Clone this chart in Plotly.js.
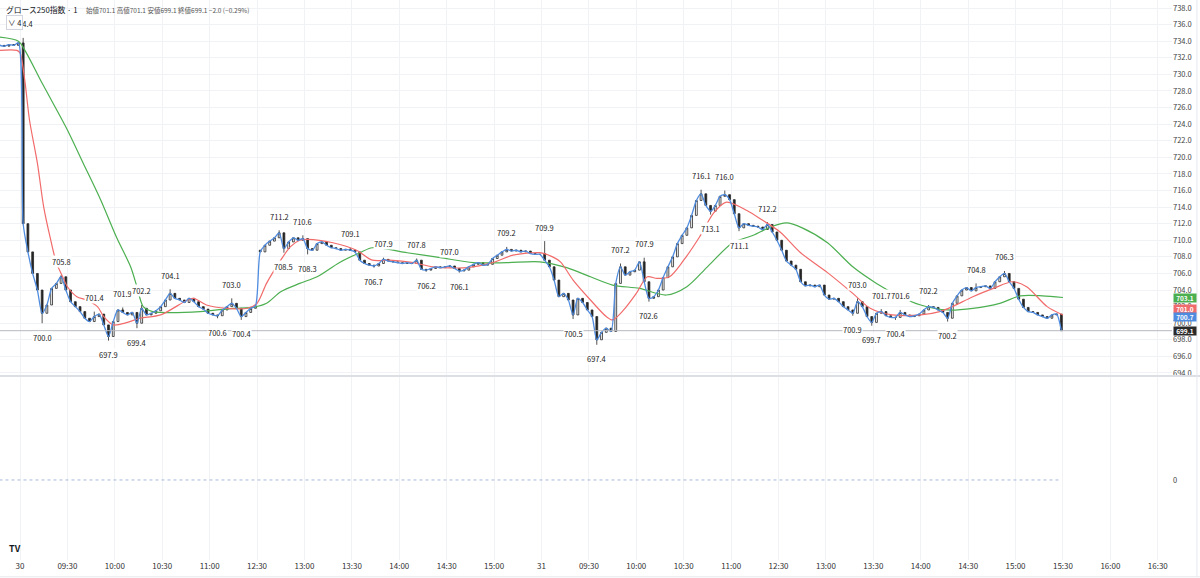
<!DOCTYPE html>
<html>
<head>
<meta charset="utf-8">
<script src="https://cdn.plot.ly/plotly-3.0.1.min.js"></script>
<style>
  html, body { margin: 0; padding: 0; background: #fff; }
  #chart { width: 1200px; height: 578px; }
</style>
</head>
<body>
<div id="chart"></div>
<script>
// 1本 = 3分足。x は「立会い分」(30日 09:00 = 0, 昼休みは詰める, 31日 09:00 = 330)

// 29日 引け前
var preClose = [733.5, 733.4, 733.6, 733.5, 733.8];

// 30日 前場 09:00-11:30
var d30am = [
  712.0, 708.6, 706.0, 704.0, 701.2, 702.2, 704.2, 704.8, 705.6, 704.0,
  702.6, 702.0, 701.4, 700.6, 700.2, 700.8, 701.1, 699.8, 698.4, 700.2,
  701.6, 701.3, 701.0, 701.3, 700.0, 701.8, 701.0, 701.2, 701.5, 702.0,
  702.8, 703.6, 703.0, 702.8, 702.5, 703.0, 702.6, 702.0, 701.7, 701.2,
  701.0, 700.9, 701.6, 702.0, 702.4, 701.8, 700.8, 701.3, 701.8, 702.1
];
// 30日 後場 12:30-15:30
var d30pm = [
  708.6, 709.4, 709.9, 710.3, 710.9, 709.0, 709.8, 710.3, 710.0, 710.2,
  709.0, 708.8, 709.6, 709.8, 709.4, 709.1, 709.0, 708.8, 708.9, 708.8,
  708.6, 707.6, 707.2, 707.0, 706.9, 707.2, 707.7, 707.5, 707.4, 707.3,
  707.2, 707.3, 707.2, 707.6, 706.5, 706.4, 706.6, 706.8, 706.7, 706.8,
  706.9, 706.6, 706.3, 706.4, 706.8, 707.1, 707.3, 707.0, 707.1, 707.8,
  708.2, 708.6, 708.9, 708.7, 708.8, 708.6, 708.7, 708.4, 708.3, 708.3
];
// 31日 前場
var d31am = [
  707.6, 706.8, 705.2, 703.2, 703.6, 702.8, 701.0, 703.0, 702.5, 701.6,
  700.8, 698.0, 698.9, 699.4, 699.0, 704.8, 706.8, 705.8, 706.2, 706.4,
  707.4, 705.0, 703.0, 703.2, 704.0, 705.5, 706.8, 708.0, 709.6, 710.6,
  711.5, 713.0, 714.8, 715.6, 714.2, 713.5, 714.2, 715.3, 715.5, 714.9,
  713.2, 711.5, 712.0, 711.8, 711.7, 711.6, 711.3, 711.9, 711.0, 710.0
];
// 31日 後場
var d31pm = [
  708.8, 707.5, 707.0, 706.5, 705.0, 704.5, 704.6, 704.4, 704.6, 703.4,
  702.9, 703.0, 702.6, 702.0, 701.6, 701.2, 702.6, 702.0, 700.8, 700.1,
  701.2, 701.4, 700.9, 700.7, 700.7, 701.3, 701.0, 700.8, 700.9, 701.1,
  701.6, 702.0, 701.9, 701.6, 701.3, 700.6, 702.4, 703.3, 704.0, 704.3,
  703.9, 704.3, 704.4, 704.5, 704.2, 705.0, 705.6, 706.0, 705.0, 704.2,
  702.9, 701.9, 701.4, 701.3, 701.0, 700.8, 700.6, 701.0, 701.1, 699.1
];

// 寄り付きの窓 (30日後場, 31日前場)
var gapBar = [50, 110];
var gapOpen = [708.8, 708.4];

// 高値・安値ラベル (当日の足番号)
var highBar = [0, 8, 15, 21, 25, 31, 44, 54, 59, 69, 76, 83, 90, 102, 110, 126, 131, 143, 148, 157, 176, 181, 185, 191, 201, 207];
var highVal = [734.4, 705.8, 701.4, 701.9, 702.2, 704.1, 703.0, 711.2, 710.6, 709.1, 707.9, 707.8, 707.0, 709.2, 709.9, 707.2, 707.9, 716.1, 716.0, 712.2, 703.0, 701.7, 701.6, 702.2, 704.8, 706.3];
var lowBar = [4, 18, 24, 41, 46, 55, 60, 74, 85, 92, 116, 121, 132, 145, 151, 175, 179, 184, 195];
var lowVal = [700.0, 697.9, 699.4, 700.6, 700.4, 708.5, 708.3, 706.7, 706.2, 706.1, 700.5, 697.4, 702.6, 713.1, 711.1, 700.9, 699.7, 700.4, 700.2];

// 移動平均 (赤・緑) 読み取り値
var redT = [-13, -2, 0, 3, 6, 11, 15, 19, 23, 27, 30, 36, 42, 49, 53, 59, 68, 76, 89, 106, 110, 118, 131, 144, 150, 156, 165, 171, 177, 182, 198, 213, 223, 234, 249, 261, 283, 299, 312, 329, 337, 342, 350, 361, 371, 375, 382, 390, 397, 403, 411, 420, 430, 439, 447, 460, 470, 481, 494, 511, 527, 538, 552, 570, 582, 590, 603, 616, 628, 637, 650, 660];
var redV = [732.9, 732.9, 732.6, 729.3, 724.5, 719.3, 714.0, 710.4, 707.3, 705.6, 704.4, 703.2, 702.8, 702.0, 700.8, 699.8, 700.1, 700.6, 701.0, 702.8, 703.0, 702.2, 701.8, 701.8, 702.4, 704.8, 707.6, 709.2, 710.0, 710.1, 709.7, 708.8, 707.6, 707.6, 707.3, 706.8, 706.7, 707.3, 708.2, 708.5, 708.0, 707.4, 705.2, 702.8, 700.8, 700.4, 701.6, 703.6, 705.6, 705.4, 705.6, 707.6, 710.4, 713.3, 714.6, 713.6, 712.4, 711.0, 708.5, 706.1, 703.6, 701.8, 701.0, 701.0, 701.4, 702.0, 703.2, 704.2, 705.0, 704.4, 702.0, 701.0];
var greenT = [-13, -1, 4, 13, 21, 30, 40, 51, 61, 70, 74, 78, 84, 89, 114, 135, 147, 156, 165, 177, 188, 202, 215, 223, 245, 266, 287, 308, 329, 346, 361, 375, 392, 409, 422, 435, 451, 464, 475, 485, 495, 511, 527, 542, 557, 570, 587, 603, 620, 633, 647, 660];
var greenV = [734.5, 734.0, 732.6, 729.3, 726.5, 723.3, 719.3, 714.9, 710.4, 706.8, 704.4, 702.0, 701.4, 701.3, 701.4, 701.8, 701.9, 702.4, 703.8, 704.8, 705.6, 707.3, 708.5, 709.1, 708.5, 707.9, 707.3, 707.3, 707.4, 706.7, 705.6, 704.6, 704.2, 703.4, 704.4, 706.8, 709.7, 710.6, 711.6, 712.1, 711.5, 709.7, 706.8, 704.8, 703.2, 702.2, 701.6, 701.8, 702.4, 703.3, 703.3, 703.1];
var blueLast = 700.7;

// 時間軸ラベル (30分ごと)
var tickText = ['30', '09:30', '10:00', '10:30', '11:00', '12:30', '13:00', '13:30', '14:00', '14:30', '15:00',
                '31', '09:30', '10:00', '10:30', '11:00', '12:30', '13:00', '13:30', '14:00', '14:30', '15:00',
                '15:30', '16:00', '16:30'];

var closes = preClose.concat(d30am, d30pm, d31am, d31pm);
var nPre = preClose.length;
var mins = [];
for (var i = 0; i < closes.length; i++) {
  mins.push(i < nPre ? -1 - 3 * (nPre - 1 - i) : 3 * (i - nPre) + 2);
}
var opens = closes.map(function (c, i) { return i === 0 ? c : closes[i - 1]; });
gapBar.forEach(function (k, j) { opens[nPre + k] = gapOpen[j]; });
var highs = closes.map(function (c, i) { return Math.max(c, opens[i]); });
var lows = closes.map(function (c, i) { return Math.min(c, opens[i]); });
highBar.forEach(function (k, j) { highs[nPre + k] = highVal[j]; });
lowBar.forEach(function (k, j) { lows[nPre + k] = lowVal[j]; });

var last = closes.length - 1;
var lastClose = closes[last];
var prevClose = closes[last - 1];

var candleCol = '#262626';
var data = [{
  type: 'candlestick',
  x: mins, open: opens, high: highs, low: lows, close: closes,
  increasing: { line: { color: candleCol, width: 0.8 }, fillcolor: '#ffffff' },
  decreasing: { line: { color: candleCol, width: 0.8 }, fillcolor: candleCol },
  whiskerwidth: 0,
  hoverinfo: 'skip'
}, {
  type: 'scatter', mode: 'lines',
  x: greenT, y: greenV,
  line: { color: '#4caf50', width: 1.2, shape: 'spline', smoothing: 0.8 }
}, {
  type: 'scatter', mode: 'lines',
  x: redT, y: redV,
  line: { color: '#f26b6b', width: 1.2, shape: 'spline', smoothing: 0.8 }
}, {
  type: 'scatter', mode: 'lines',
  x: mins, y: closes,
  line: { color: '#4f8ce0', width: 1.3, shape: 'spline', smoothing: 0.7 }
}, {
  type: 'scatter', mode: 'lines',
  x: [mins[0], mins[last]], y: [0, 0],
  yaxis: 'y2',
  line: { color: '#a9b9dc', width: 1, dash: 'dot' }
}];

var annotations = [];
function addLabel(k, v, up) {
  annotations.push({
    x: mins[nPre + k], y: v, xref: 'x', yref: 'y',
    text: v.toFixed(1), showarrow: false,
    yshift: up ? 14 : -14,
    font: { size: 7.5, color: '#222' },
    bgcolor: '#ffffff', borderpad: 0
  });
}
highBar.forEach(function (k, j) { addLabel(k, highVal[j], true); });
lowBar.forEach(function (k, j) { addLabel(k, lowVal[j], false); });

function priceTag(v, col, shift) {
  annotations.push({
    x: 1, xref: 'paper', xanchor: 'left', xshift: 1,
    y: v, yref: 'y', yshift: shift,
    text: '<b>' + v.toFixed(1) + '</b>', showarrow: false,
    font: { size: 6.5, color: '#ffffff' },
    bgcolor: col, borderpad: 0, width: 22, height: 8
  });
}
priceTag(greenV[greenV.length - 1], '#4caf50', 0);
priceTag(redV[redV.length - 1], '#f06c6c', 5.5);
priceTag(blueLast, '#4f8ce0', 0);
priceTag(lastClose, '#2a2a2a', 0);

var chg = lastClose - prevClose;
annotations.push({
  x: 0, xref: 'paper', xanchor: 'left', xshift: 4,
  y: 1, yref: 'paper', yanchor: 'top', yshift: -2,
  text: 'グロース250指数 · 1', showarrow: false,
  font: { size: 7.8, color: '#131722' }
});
annotations.push({
  x: 84 / 1172, xref: 'paper', xanchor: 'left',
  y: 1, yref: 'paper', yanchor: 'top', yshift: -3,
  text: '始値' + opens[last].toFixed(1) + ' 高値' + highs[last].toFixed(1) +
        ' 安値' + lows[last].toFixed(1) + ' 終値' + lastClose.toFixed(1) +
        ' ' + chg.toFixed(1).replace('-', '−') + ' (' + (chg / prevClose * 100).toFixed(2).replace('-', '−') + '%)',
  showarrow: false,
  font: { size: 6.5, color: '#555' }
});
annotations.push({
  x: 0, xref: 'paper', xanchor: 'left', xshift: 6,
  y: 1, yref: 'paper', yanchor: 'top', yshift: -15,
  text: '∨ 4', showarrow: false,
  font: { size: 7.5, color: '#131722' },
  bgcolor: '#ffffff', bordercolor: '#d1d4dc', borderwidth: 1, borderpad: 1
});
annotations.push({
  x: 0, xref: 'paper', xanchor: 'left', xshift: 7,
  y: 0, yref: 'paper', yanchor: 'bottom', yshift: 3,
  text: '<b>TV</b>', showarrow: false,
  font: { size: 9, color: '#131722' }
});

var layout = {
  width: 1200, height: 578,
  margin: { l: 0, r: 28, t: 0, b: 18 },
  paper_bgcolor: '#ffffff', plot_bgcolor: '#ffffff',
  showlegend: false,
  boxgap: 0.45,
  font: { family: '"Noto Sans CJK JP", "Noto Sans", sans-serif', color: '#333' },
  xaxis: {
    range: [-12.66, 729],
    tickvals: tickText.map(function (_, i) { return i * 30; }),
    ticktext: tickText,
    showgrid: true, gridcolor: '#f1f2f5', zeroline: false,
    ticks: '', tickfont: { size: 8, color: '#333' },
    rangeslider: { visible: false },
    anchor: 'y2'
  },
  yaxis: {
    domain: [0.3304, 1],
    side: 'right',
    range: [693.76, 738.97],
    tick0: 694, dtick: 2, tickformat: '.1f',
    showgrid: true, gridcolor: '#f1f2f5', zeroline: false,
    ticks: '', tickfont: { size: 7.5, color: '#444' }
  },
  yaxis2: {
    domain: [0, 0.327],
    side: 'right',
    range: [-0.874, 1.126],
    tickvals: [0], ticktext: ['0'],
    showgrid: false, zeroline: false,
    ticks: '', tickfont: { size: 7.5, color: '#444' }
  },
  shapes: [{
    type: 'line', xref: 'paper', yref: 'y',
    x0: 0, x1: 1, y0: lastClose, y1: lastClose,
    line: { color: '#b5b8bf', width: 1 }
  }, {
    type: 'line', xref: 'paper', yref: 'paper',
    x0: 0, x1: 1.024, y0: 0.3286, y1: 0.3286,
    line: { color: '#dcdfe4', width: 2 }
  }, {
    type: 'line', xref: 'paper', yref: 'paper',
    x0: 0, x1: 1.024, y0: -0.03, y1: -0.03,
    line: { color: '#e6e8ec', width: 1 }
  }, {
    type: 'line', xref: 'paper', yref: 'paper',
    x0: 1.0213, x1: 1.0213, y0: -0.03, y1: 1.0,
    line: { color: '#e6e8ec', width: 1 }
  }],
  annotations: annotations
};

Plotly.newPlot('chart', data, layout, { staticPlot: true, displayModeBar: false });
</script>
</body>
</html>
